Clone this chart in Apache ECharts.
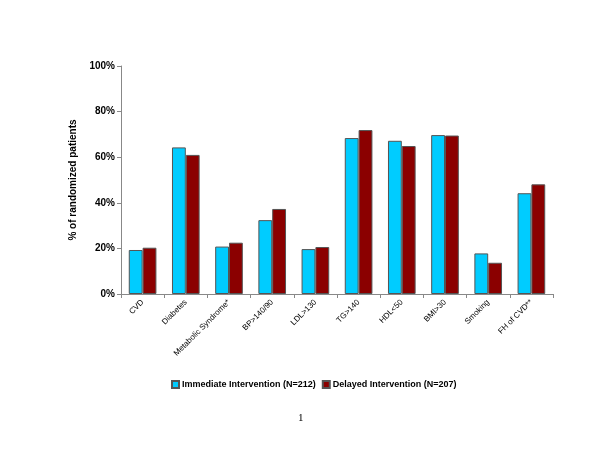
<!DOCTYPE html>
<html>
<head>
<meta charset="utf-8">
<script src="https://cdn.jsdelivr.net/npm/echarts@6/dist/echarts.min.js"></script>
<style>
  html, body { margin: 0; padding: 0; background: #fff; }
  #chart { width: 600px; height: 463px; }
</style>
</head>
<body>
<div id="chart"></div>
<script>
// data
const categories = ['CVD', 'Diabetes', 'Metabolic Syndrome*', 'BP>140/90', 'LDL>130',
  'TG>140', 'HDL<50', 'BMI>30', 'Smoking', 'FH of CVD**']
const immediate = [19.3, 64.3, 20.8, 32.4, 19.7, 68.4, 67.2, 69.7, 17.8, 44.2]
const delayed = [20.3, 61.0, 22.5, 37.3, 20.6, 71.9, 64.9, 69.5, 13.7, 48.1]
const seriesNames = ['Immediate Intervention (N=212)', 'Delayed Intervention (N=207)']
const yTicks = [0, 20, 40, 60, 80, 100]

const chart = echarts.init(document.getElementById('chart'))

const barStyle = (color) => ({
  color: color,
  borderColor: '#555',
  borderWidth: 1
})

chart.setOption({
  animation: false,
  textStyle: { fontFamily: 'Liberation Sans, Arial, sans-serif' },
  grid: { left: 121, right: 47, top: 66, bottom: 169 },
  legend: {
    data: seriesNames,
    left: 166,
    top: 375,
    itemWidth: 7,
    itemHeight: 7,
    itemGap: 6,
    icon: 'rect',
    textStyle: { fontSize: 9, fontWeight: 'bold', color: '#000', padding: [0, 0, 0, -2] }
  },
  xAxis: {
    type: 'category',
    data: categories,
    axisLine: { lineStyle: { color: '#888' } },
    axisTick: { show: true, alignWithLabel: false, length: 4, lineStyle: { color: '#888' } },
    axisLabel: {
      interval: 0,
      rotate: 45,
      fontSize: 8,
      color: '#000',
      margin: 7
    }
  },
  yAxis: {
    type: 'value',
    min: yTicks[0],
    max: yTicks[yTicks.length - 1],
    interval: 20,
    name: '% of randomized patients',
    nameLocation: 'middle',
    nameGap: 33,
    nameRotate: 90,
    nameTextStyle: { fontSize: 10, fontWeight: 'bold', color: '#000' },
    axisLine: { show: true, lineStyle: { color: '#888' } },
    axisTick: { show: true, length: 4, lineStyle: { color: '#888' } },
    splitLine: { show: false },
    axisLabel: {
      formatter: '{value}%',
      fontSize: 10,
      fontWeight: 'bold',
      color: '#000',
      margin: 6
    }
  },
  series: [
    {
      name: seriesNames[0],
      type: 'bar',
      data: immediate,
      barWidth: '32%',
      barGap: '0%',
      itemStyle: barStyle('#00CCFF')
    },
    {
      name: seriesNames[1],
      type: 'bar',
      data: delayed,
      barWidth: '32%',
      barGap: '0%',
      itemStyle: barStyle('#8B0000')
    }
  ],
  graphic: [
    {
      type: 'text',
      left: 298,
      top: 413,
      style: { text: '1', fontSize: 11, fontFamily: 'Liberation Serif, serif', fill: '#000' }
    }
  ]
})
</script>
</body>
</html>
